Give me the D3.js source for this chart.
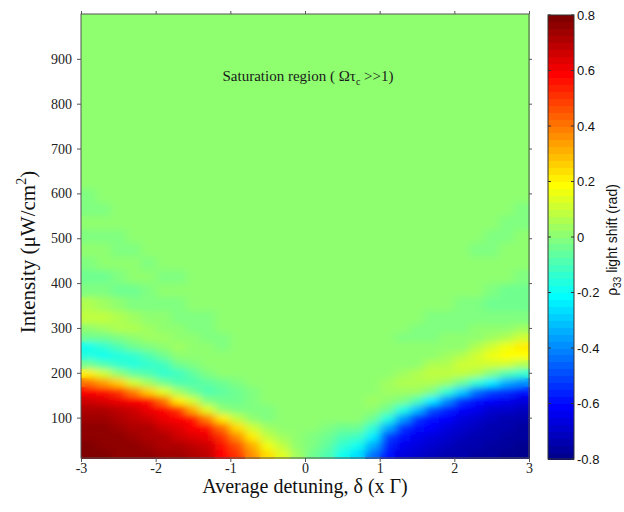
<!DOCTYPE html>
<html lang="en">
<head>
<meta charset="utf-8">
<title>Light shift map</title>
<script src="https://cdn.jsdelivr.net/npm/d3@7"></script>
<style>
  body { margin: 0; background: #fff; }
  svg { display: block; }
</style>
</head>
<body>
<div id="chart"></div>
<script>
// cell edges of the map (detuning in units of Gamma, intensity in uW/cm2)
var detuningEdges = [-3, -2.8, -2.6, -2.4, -2.2, -2, -1.8, -1.6, -1.4, -1.2, -1, -0.8, -0.6, -0.4, -0.2, 0,
                     0.2, 0.4, 0.6, 0.8, 1, 1.2, 1.4, 1.6, 1.8, 2, 2.2, 2.4, 2.6, 2.8, 3];
var intensityEdges = [10, 30, 50, 70, 90, 110, 130, 150, 170, 190, 210, 230, 250, 270, 290, 310,
                      340, 370, 400, 430, 460, 490, 520, 550, 580, 610, 1000];

// rho33 light shift (rad), one row per intensity band, bottom to top
var lightShift = [
  [0.78,0.78,0.77,0.76,0.75,0.74,0.73,0.71,0.68,0.58,0.50,0.36,0.24,0.13,0.04, -0.03,-0.10,-0.18,-0.27,-0.45,-0.60,-0.66,-0.70,-0.72,-0.74,-0.75,-0.76,-0.77,-0.78,-0.78],
  [0.78,0.77,0.77,0.75,0.74,0.72,0.71,0.68,0.65,0.55,0.45,0.30,0.17,0.08,0.02, -0.02,-0.07,-0.14,-0.19,-0.35,-0.57,-0.63,-0.67,-0.70,-0.72,-0.74,-0.75,-0.77,-0.77,-0.78],
  [0.77,0.76,0.75,0.74,0.72,0.70,0.67,0.64,0.61,0.52,0.36,0.22,0.09,0.04,0.01, -0.01,-0.04,-0.08,-0.12,-0.24,-0.52,-0.59,-0.63,-0.66,-0.69,-0.72,-0.74,-0.75,-0.76,-0.77],
  [0.76,0.75,0.74,0.72,0.70,0.67,0.63,0.60,0.57,0.40,0.23,0.11,0.03,0.01,0, 0,-0.01,-0.03,-0.05,-0.13,-0.33,-0.55,-0.59,-0.62,-0.66,-0.70,-0.72,-0.74,-0.75,-0.76],
  [0.74,0.73,0.72,0.69,0.66,0.62,0.59,0.56,0.38,0.20,0.09,0.01,-0.01,0,0, 0,0,0,0,-0.04,-0.17,-0.36,-0.55,-0.58,-0.62,-0.66,-0.69,-0.72,-0.73,-0.74],
  [0.72,0.70,0.68,0.65,0.61,0.58,0.52,0.31,0.14,0.02,-0.02,-0.02,-0.01,0,0, 0,0,0,0.02,0.02,-0.05,-0.16,-0.32,-0.50,-0.57,-0.61,-0.65,-0.68,-0.70,-0.72],
  [0.66,0.63,0.61,0.59,0.55,0.41,0.21,0.10,-0.01,-0.05,-0.04,-0.02,0,0,0, 0,0,0,0.02,0.03,0.02,-0.02,-0.10,-0.25,-0.40,-0.55,-0.59,-0.62,-0.64,-0.66],
  [0.58,0.55,0.50,0.38,0.25,0.13,0.03,-0.05,-0.08,-0.06,-0.03,-0.01,0,0,0, 0,0,0,0.01,0.02,0.04,0.04,0.03,-0.02,-0.15,-0.30,-0.45,-0.52,-0.55,-0.58],
  [0.41,0.34,0.25,0.10,0.03,-0.03,-0.09,-0.10,-0.07,-0.03,-0.01,0,0,0,0, 0,0,0,0,0.01,0.03,0.05,0.06,0.06,0.04,-0.04,-0.14,-0.25,-0.33,-0.40],
  [0.20,0.10,0.02,-0.07,-0.10,-0.13,-0.11,-0.07,-0.02,0,0,0,0,0,0, 0,0,0,0,0,0.01,0.03,0.05,0.08,0.09,0.08,0.05,-0.01,-0.08,-0.15],
  [-0.05,-0.10,-0.14,-0.16,-0.14,-0.11,-0.05,-0.01,0,0,0,0,0,0,0, 0,0,0,0,0,0,0.01,0.02,0.05,0.07,0.11,0.12,0.12,0.10,0.05],
  [-0.17,-0.19,-0.17,-0.14,-0.09,-0.03,0,0.02,0.02,0,0,0,0,0,0, 0,0,0,0,0,0,0.01,0.01,0.02,0.03,0.06,0.12,0.16,0.18,0.18],
  [-0.18,-0.14,-0.10,-0.04,-0.01,0.02,0.03,0.02,0.01,-0.01,0,0,0,0,0, 0,0,0,0,0,0,0,0,0.01,0.01,0.02,0.05,0.10,0.16,0.21],
  [-0.05,-0.03,-0.01,0.02,0.03,0.03,0.02,0.01,-0.01,-0.01,0,0,0,0,0, 0,0,0,0,0,0,-0.01,-0.01,-0.01,0,0.01,0.02,0.04,0.07,0.12],
  [0.02,0.04,0.06,0.05,0.03,0.02,0.01,-0.01,-0.02,0,0,0,0,0,0, 0,0,0,0,0,0,0,-0.01,-0.01,-0.02,-0.01,0.01,0.01,0.02,0.03],
  [0.08,0.08,0.06,0.03,0.01,0,-0.02,-0.02,-0.01,0,0,0,0,0,0, 0,0,0,0,0,0,0,0,-0.01,-0.02,-0.02,-0.02,-0.02,-0.01,-0.02],
  [0.06,0.03,0.01,-0.01,-0.02,-0.02,-0.01,0,0,0,0,0,0,0,0, 0,0,0,0,0,0,0,0,0,0,-0.01,-0.02,-0.03,-0.03,-0.04],
  [-0.02,-0.02,-0.03,-0.03,-0.01,0,0,0,0,0,0,0,0,0,0, 0,0,0,0,0,0,0,0,0,0,0,0,-0.01,-0.03,-0.03],
  [-0.04,-0.03,-0.02,0,0,-0.01,-0.01,0,0,0,0,0,0,0,0, 0,0,0,0,0,0,0,0,0,0,0,0,0,0,-0.01],
  [-0.01,0,0,0,-0.01,0,0,0,0,0,0,0,0,0,0, 0,0,0,0,0,0,0,0,0,0,0,0,0,0,0],
  [0,0,-0.01,-0.01,0,0,0,0,0,0,0,0,0,0,0, 0,0,0,0,0,0,0,0,0,0,0,-0.01,-0.01,0,0],
  [-0.01,-0.01,-0.01,0,0,0,0,0,0,0,0,0,0,0,0, 0,0,0,0,0,0,0,0,0,0,0,0,-0.01,-0.01,0],
  [0,0,0,0,0,0,0,0,0,0,0,0,0,0,0, 0,0,0,0,0,0,0,0,0,0,0,0,0,-0.01,-0.01],
  [-0.01,-0.01,0,0,0,0,0,0,0,0,0,0,0,0,0, 0,0,0,0,0,0,0,0,0,0,0,0,0,0,-0.01],
  [-0.01,0,0,0,0,0,0,0,0,0,0,0,0,0,0, 0,0,0,0,0,0,0,0,0,0,0,0,0,0,0],
  [0,0,0,0,0,0,0,0,0,0,0,0,0,0,0, 0,0,0,0,0,0,0,0,0,0,0,0,0,0,0]
];

var xTicks = [-3, -2, -1, 0, 1, 2, 3];
var yTicks = [100, 200, 300, 400, 500, 600, 700, 800, 900];
var colorTicks = [-0.8, -0.6, -0.4, -0.2, 0, 0.2, 0.4, 0.6, 0.8];

var w = 624, h = 512;
var plot = { left: 81, right: 529, top: 14, bottom: 458 };
var bar = { left: 548, width: 26, top: 15, bottom: 459 };

// matlab style jet(64)
function jet(m) {
  var n = Math.ceil(m / 4);
  var u = [];
  for (var i = 1; i <= n; i++) u.push(i / n);
  for (var i = 1; i < n; i++) u.push(1);
  for (var i = n; i >= 1; i--) u.push(i / n);
  var g0 = Math.ceil(n / 2) - (m % 4 === 1 ? 1 : 0);
  var cols = d3.range(m).map(function() { return [0, 0, 0]; });
  u.forEach(function(v, k) {
    var g = g0 + k + 1, r = g + n, b = g - n;
    if (r >= 1 && r <= m) cols[r - 1][0] = v;
    if (g >= 1 && g <= m) cols[g - 1][1] = v;
    if (b >= 1 && b <= m) cols[b - 1][2] = v;
  });
  return cols.map(function(c) { return d3.rgb(c[0] * 255, c[1] * 255, c[2] * 255).formatHex(); });
}
var palette = jet(64);
var binScale = d3.scaleLinear().domain([-0.8, 0.8]).range([0, 64]).clamp(true);
function color(v) {
  return palette[Math.min(63, Math.floor(binScale(v)))];
}

var x = d3.scaleLinear().domain([-3, 3]).range([plot.left, plot.right]);
var y = d3.scaleLinear().domain([10, 1000]).range([plot.bottom, plot.top]);
var c = d3.scaleLinear().domain([-0.8, 0.8]).range([bar.bottom, bar.top]);

var svg = d3.select("#chart").append("svg")
  .attr("width", w)
  .attr("height", h);
svg.append("rect").attr("width", w).attr("height", h).attr("fill", "#fff");

var defs = svg.append("defs");
defs.append("clipPath").attr("id", "plotClip")
  .append("rect")
  .attr("x", plot.left).attr("y", plot.top)
  .attr("width", plot.right - plot.left).attr("height", plot.bottom - plot.top);
// soften the cell edges a little, like the resampled original
defs.append("filter").attr("id", "soft")
  .attr("filterUnits", "userSpaceOnUse")
  .attr("x", plot.left - 30).attr("y", plot.top - 30)
  .attr("width", plot.right - plot.left + 60).attr("height", plot.bottom - plot.top + 60)
  .append("feGaussianBlur").attr("stdDeviation", "5 3");

// heat map cells
var cells = [];
lightShift.forEach(function(row, r) {
  row.forEach(function(v, k) { cells.push({ r: r, k: k, v: v }); });
});
svg.append("g")
  .attr("id", "cells")
  .attr("shape-rendering", "crispEdges")
  .selectAll("rect")
  .data(cells)
  .enter()
  .append("rect")
  .attr("x", function(d) { return x(detuningEdges[d.k]); })
  .attr("width", function(d) { return x(detuningEdges[d.k + 1]) - x(detuningEdges[d.k]) + 0.5; })
  .attr("y", function(d) { return y(intensityEdges[d.r + 1]); })
  .attr("height", function(d) { return y(intensityEdges[d.r]) - y(intensityEdges[d.r + 1]) + 0.5; })
  .attr("fill", function(d) { return color(d.v); });

svg.append("g")
  .attr("clip-path", "url(#plotClip)")
  .append("g")
  .attr("filter", "url(#soft)")
  .append("use")
  .attr("href", "#cells");

// axes
var serif = "'Liberation Serif', 'Times New Roman', serif";
var sans = "'Liberation Sans', Arial, sans-serif";

function styleAxis(g) {
  g.select(".domain").remove();
  g.selectAll(".tick line").attr("stroke", "#555");
  g.selectAll("text").attr("font-family", serif).attr("font-size", 14).attr("fill", "#222");
}
svg.append("g")
  .attr("transform", "translate(0," + plot.bottom + ")")
  .call(d3.axisBottom(x).tickValues(xTicks).tickSize(4).tickPadding(1).tickFormat(function(d) { return "" + d; }))
  .call(styleAxis);
svg.append("g")
  .attr("transform", "translate(0," + plot.top + ")")
  .call(d3.axisTop(x).tickValues(xTicks).tickSize(3).tickFormat(""))
  .call(styleAxis);
svg.append("g")
  .attr("transform", "translate(" + plot.left + ",0)")
  .call(d3.axisLeft(y).tickValues(yTicks).tickSize(4).tickPadding(5))
  .call(styleAxis);
svg.append("g")
  .attr("transform", "translate(" + plot.right + ",0)")
  .call(d3.axisRight(y).tickValues(yTicks).tickSize(3).tickFormat(""))
  .call(styleAxis);

svg.append("rect")
  .attr("x", plot.left).attr("y", plot.top)
  .attr("width", plot.right - plot.left).attr("height", plot.bottom - plot.top)
  .attr("fill", "none").attr("stroke", "#555").attr("stroke-width", 1);

// annotation
var note = svg.append("text")
  .attr("x", 308).attr("y", 81)
  .attr("text-anchor", "middle")
  .attr("font-family", serif).attr("font-size", 15).attr("fill", "#1a1a1a");
note.append("tspan").text("Saturation region ( \u03A9\u03C4");
note.append("tspan").attr("font-size", 10).attr("dy", 4).text("c");
note.append("tspan").attr("dy", -4).text(" >>1)");

// axis titles
svg.append("text")
  .attr("x", 305).attr("y", 493)
  .attr("text-anchor", "middle")
  .attr("font-family", serif).attr("font-size", 20).attr("fill", "#111")
  .text("Average detuning, \u03B4 (x \u0393)");

var yt = svg.append("text")
  .attr("transform", "translate(35,252) rotate(-90)")
  .attr("text-anchor", "middle")
  .attr("font-family", serif).attr("font-size", 21).attr("fill", "#111");
yt.append("tspan").text("Intensity (\u03BCW/cm");
yt.append("tspan").attr("font-size", 14).attr("dy", -9).text("2");
yt.append("tspan").attr("dy", 9).text(")");

// colour bar
var steps = d3.range(64);
svg.append("g")
  .attr("shape-rendering", "crispEdges")
  .selectAll("rect")
  .data(steps)
  .enter()
  .append("rect")
  .attr("x", bar.left)
  .attr("width", bar.width)
  .attr("y", function(i) { return c(-0.8 + (i + 1) * 0.025); })
  .attr("height", function(i) { return c(-0.8 + i * 0.025) - c(-0.8 + (i + 1) * 0.025) + 0.5; })
  .attr("fill", function(i) { return palette[i]; });

svg.append("rect")
  .attr("x", bar.left).attr("y", bar.top)
  .attr("width", bar.width).attr("height", bar.bottom - bar.top)
  .attr("fill", "none").attr("stroke", "#333");

var cb = svg.append("g");
cb.selectAll("line.l")
  .data(colorTicks).enter().append("line")
  .attr("x1", bar.left).attr("x2", bar.left + 3)
  .attr("y1", function(d) { return c(d); }).attr("y2", function(d) { return c(d); })
  .attr("stroke", "#333");
cb.selectAll("line.r")
  .data(colorTicks).enter().append("line")
  .attr("x1", bar.left + bar.width - 3).attr("x2", bar.left + bar.width)
  .attr("y1", function(d) { return c(d); }).attr("y2", function(d) { return c(d); })
  .attr("stroke", "#333");
cb.selectAll("text")
  .data(colorTicks).enter().append("text")
  .attr("x", bar.left + bar.width + 3)
  .attr("y", function(d) { return c(d); })
  .attr("dy", "0.35em")
  .attr("font-family", sans).attr("font-size", 13).attr("fill", "#111")
  .text(function(d) { return "" + d; });

var ct = svg.append("text")
  .attr("transform", "translate(617,240) rotate(-90)")
  .attr("text-anchor", "middle")
  .attr("font-family", sans).attr("font-size", 14).attr("fill", "#111");
ct.append("tspan").text("\u03C1");
ct.append("tspan").attr("font-size", 10).attr("dy", 4).text("33");
ct.append("tspan").attr("dy", -4).text(" light shift  (rad)");
</script>
</body>
</html>
